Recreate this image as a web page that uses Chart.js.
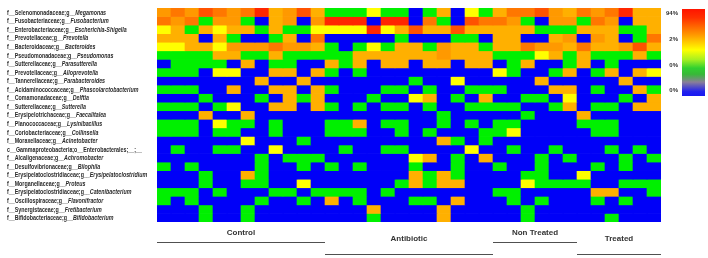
<!DOCTYPE html>
<html><head><meta charset="utf-8">
<script src="https://cdn.jsdelivr.net/npm/chart.js@4/dist/chart.umd.min.js"></script>
<style>html,body{margin:0;padding:0;background:#fff}#wrap{width:708px;height:258px;position:relative}</style>
</head><body><div id="wrap"><canvas id="c" width="708" height="258"></canvas></div>
<script>
// ---- labels ----
const familyLabels = [
  'f__Selenomonadaceae;g__','f__Fusobacteriaceae;g__','f__Enterobacteriaceae;g__','f__Prevotellaceae;g__',
  'f__Bacteroidaceae;g__','f__Pseudomonadaceae;g__','f__Sutterellaceae;g__','f__Prevotellaceae;g__',
  'f__Tannerellaceae;g__','f__Acidaminococcaceae;g__','f__Comamonadaceae;g__','f__Sutterellaceae;g__',
  'f__Erysipelotrichaceae;g__','f__Planococcaceae;g__','f__Coriobacteriaceae;g__','f__Moraxellaceae;g__',
  'c__Gammaproteobacteria;o__Enterobacterales;__;__','f__Alcaligenaceae;g__','f__Desulfovibrionaceae;g__',
  'f__Erysipelatoclostridiaceae;g__','f__Morganellaceae;g__','f__Erysipelatoclostridiaceae;g__',
  'f__Oscillospiraceae;g__','f__Synergistaceae;g__','f__Bifidobacteriaceae;g__'
];
const genusLabels = [
  'Megamonas','Fusobacterium','Escherichia-Shigella','Prevotella','Bacteroides','Pseudomonas',
  'Parasutterella','Alloprevotella','Parabacteroides','Phascolarctobacterium','Delftia','Sutterella',
  'Faecalitalea','Lysinibacillus','Collinsella','Acinetobacter','','Achromobacter','Bilophila',
  'Erysipelatoclostridium','Proteus','Catenibacterium','Flavonifractor','Fretibacterium','Bifidobacterium'
];
const groupNames = ['Control','Antibiotic','Non Treated','Treated'];
const colorbarTicks = ['94%','2%','0%','0%'];

// ---- heatmap levels (0 blue, 1 green, 2 yellow, 3..7 light orange -> red) ----
const control = [
  [4,5,4,6,5,4,5,7,3,4,6,3],
  [5,4,5,1,4,4,1,0,3,4,0,4],
  [2,3,1,3,2,3,3,1,3,1,1,2],
  [3,3,3,0,3,1,0,0,1,3,0,5],
  [2,2,3,3,2,4,4,4,5,4,4,3],
  [1,1,1,1,3,3,1,1,3,1,1,1],
  [0,1,1,1,1,0,3,0,1,1,0,0],
  [1,1,1,0,2,2,0,0,3,3,0,3],
  [0,0,0,0,0,0,0,3,0,0,3,0],
  [1,1,1,0,0,3,0,0,3,3,0,3],
  [0,0,0,1,0,0,0,1,0,3,1,3],
  [1,1,1,0,1,2,0,0,3,3,0,3],
  [0,0,0,3,0,0,3,0,0,0,0,0],
  [1,1,1,0,2,1,1,0,1,0,0,0],
  [1,1,1,0,1,1,0,0,1,0,0,0],
  [0,0,0,0,0,0,2,0,0,0,1,0],
  [0,1,0,0,1,1,0,0,2,0,0,0],
  [0,0,0,0,0,0,0,1,0,1,1,1],
  [1,0,1,0,0,0,0,1,0,0,1,0],
  [0,0,0,1,0,0,3,1,0,0,0,0],
  [0,0,0,1,0,0,1,1,0,0,2,0],
  [1,1,1,0,1,0,0,0,1,1,0,1],
  [1,0,1,0,0,0,0,1,0,0,1,0],
  [0,0,0,1,0,0,1,0,0,0,0,0],
  [0,0,0,1,0,0,1,0,0,0,0,0]
];
const antibiotic = [
  [1,1,1,2,1,1,0,1,3,0,2,1],
  [7,7,7,0,7,7,0,5,1,0,6,5],
  [2,2,2,7,2,3,6,3,3,6,3,3],
  [0,0,0,0,0,1,0,0,0,1,1,0],
  [1,0,1,2,1,3,3,1,4,3,3,1],
  [1,1,3,3,3,3,3,3,4,3,3,3],
  [3,1,3,0,3,3,0,3,3,0,3,3],
  [1,0,1,0,0,0,0,0,0,0,0,0],
  [0,0,0,0,0,0,1,0,0,2,0,0],
  [1,0,0,0,1,1,0,1,0,0,1,1],
  [0,0,0,1,0,0,2,3,0,1,0,3],
  [1,0,1,0,1,1,0,1,0,0,1,1],
  [0,0,0,0,0,0,0,0,1,0,0,0],
  [1,1,3,0,1,1,0,0,1,0,1,0],
  [1,1,1,0,0,1,0,1,0,0,0,1],
  [0,0,0,0,0,0,0,0,3,1,0,1],
  [0,1,0,0,1,1,0,0,0,0,2,0],
  [0,0,0,0,0,0,2,3,0,1,0,3],
  [1,0,1,0,0,0,1,0,0,1,0,0],
  [0,0,0,0,0,0,3,1,3,1,0,0],
  [0,0,0,0,0,1,3,1,3,3,0,0],
  [1,1,1,0,1,0,0,0,0,0,0,0],
  [3,0,1,0,0,0,1,1,0,3,0,0],
  [0,0,0,3,0,0,0,0,3,0,0,0],
  [0,0,0,1,0,0,0,0,3,0,0,0]
];
const nonTreated = [
  [3,5,5,6,4,3],
  [5,4,1,0,4,4],
  [3,3,3,1,1,1],
  [3,3,0,0,3,4],
  [3,3,5,4,4,3],
  [1,1,1,2,3,1],
  [0,1,3,0,0,1],
  [2,1,0,0,1,3],
  [0,0,0,3,0,0],
  [1,0,0,0,3,3],
  [0,0,1,1,0,2],
  [1,1,0,0,1,3],
  [0,0,1,0,0,0],
  [1,1,0,0,0,0],
  [1,2,0,0,0,0],
  [0,0,0,0,0,0],
  [0,1,0,0,1,0],
  [0,0,0,1,0,1],
  [1,0,0,1,0,0],
  [0,0,1,1,0,0],
  [0,0,2,1,1,1],
  [1,1,0,0,0,0],
  [0,1,0,1,0,0],
  [0,0,1,0,0,0],
  [0,0,1,0,0,0]
];
const treated = [
  [5,4,5,7,3,3],
  [1,5,4,0,3,3],
  [3,3,3,1,1,3],
  [0,4,3,0,1,5],
  [5,3,3,4,6,3],
  [3,1,1,1,3,1],
  [3,0,1,0,0,0],
  [0,1,3,0,3,2],
  [0,0,0,3,0,0],
  [0,1,0,0,3,1],
  [0,0,0,1,0,3],
  [0,1,1,0,3,3],
  [3,0,0,0,0,0],
  [1,1,1,0,0,0],
  [0,1,1,0,0,0],
  [0,0,0,0,0,0],
  [0,0,1,0,1,0],
  [0,0,0,1,0,1],
  [0,1,0,1,0,0],
  [2,0,0,0,0,0],
  [1,0,0,1,1,1],
  [0,3,3,0,0,1],
  [0,1,0,1,0,0],
  [0,0,0,0,0,0],
  [0,0,1,0,0,0]
];
const levelColors = ['#0000F8','#00F000','#FFFF00','#FFB000','#FF9900','#FF7700','#FF5200','#FF2600'];

// ---- build chart structures ----
const groupData = [control, antibiotic, nonTreated, treated];
const groupPrefix = ['C','A','N','T'];
const sampleLabels = [];
const groupRanges = [];
groupData.forEach((g, gi) => {
  const start = sampleLabels.length;
  for (let k = 0; k < g[0].length; k++) sampleLabels.push(groupPrefix[gi] + (k + 1));
  groupRanges.push([start, sampleLabels.length - 1]);
});
const nRows = familyLabels.length;
const datasets = [];
for (let r = 0; r < nRows; r++) {
  const levels = [].concat(control[r], antibiotic[r], nonTreated[r], treated[r]);
  datasets.push({
    label: familyLabels[r] + genusLabels[r],
    data: levels.map(() => 1),
    backgroundColor: levels.map(v => levelColors[v]),
    borderWidth: 0,
    barPercentage: 1,
    categoryPercentage: 1
  });
}

const FONT = '"Liberation Sans", Arial, sans-serif';
const decor = {
  id: 'decor',
  afterDraw(chart) {
    const ctx = chart.ctx;
    const xs = chart.scales.x, ys = chart.scales.y;
    ctx.save();
    // row labels
    ctx.fillStyle = '#2a2a2a';
    ctx.textBaseline = 'middle';
    ctx.textAlign = 'left';
    for (let r = 0; r < nRows; r++) {
      const y = ys.getPixelForValue(r + 0.5);
      const fNorm = 'bold 7px ' + FONT, fIt = 'italic bold 7px ' + FONT;
      ctx.font = fNorm; const w1 = ctx.measureText(familyLabels[r]).width;
      ctx.font = fIt; const w2 = ctx.measureText(genusLabels[r]).width;
      const sc = Math.min(0.76, 146 / (w1 + w2));
      ctx.save();
      ctx.translate(7, y + 0.5);
      ctx.scale(sc, 1);
      ctx.font = fNorm; ctx.fillText(familyLabels[r], 0, 0);
      ctx.font = fIt; ctx.fillText(genusLabels[r], w1, 0);
      ctx.restore();
    }
    // group labels and lines
    const half = (xs.getPixelForValue(1) - xs.getPixelForValue(0)) / 2;
    ctx.strokeStyle = '#505050';
    ctx.lineWidth = 1;
    ctx.fillStyle = '#333';
    ctx.textAlign = 'center';
    ctx.font = 'bold 8px ' + FONT;
    groupRanges.forEach((rg, gi) => {
      const x0 = xs.getPixelForValue(rg[0]) - half;
      const x1 = xs.getPixelForValue(rg[1]) + half;
      const low = gi % 2 === 1;
      const ly = low ? 254.5 : 242.5;
      const ty = low ? 238.5 : 233;
      ctx.beginPath(); ctx.moveTo(x0, ly); ctx.lineTo(x1, ly); ctx.stroke();
      ctx.fillText(groupNames[gi], (x0 + x1) / 2, ty);
    });
    // colour bar
    const cbx = 682, cby = 9, cbw = 23, cbh = 87;
    const grd = ctx.createLinearGradient(0, cby, 0, cby + cbh);
    grd.addColorStop(0, '#FF1400');
    grd.addColorStop(0.1, '#FF3000');
    grd.addColorStop(0.3, '#FF9A00');
    grd.addColorStop(0.47, '#FFFF00');
    grd.addColorStop(0.58, '#A8F020');
    grd.addColorStop(0.68, '#30D030');
    grd.addColorStop(0.75, '#38B838');
    grd.addColorStop(0.84, '#8A7F98');
    grd.addColorStop(0.95, '#2020EE');
    grd.addColorStop(1, '#1818F0');
    ctx.fillStyle = grd;
    ctx.fillRect(cbx, cby, cbw, cbh);
    ctx.fillStyle = '#333';
    ctx.textAlign = 'right';
    ctx.textBaseline = 'middle';
    ctx.font = 'bold 6px ' + FONT;
    const tickY = [13, 39, 65, 90];
    colorbarTicks.forEach((t, i) => ctx.fillText(t, 678, tickY[i]));
    ctx.restore();
  }
};

new Chart(document.getElementById('c'), {
  type: 'bar',
  data: { labels: sampleLabels, datasets },
  options: {
    responsive: false,
    devicePixelRatio: 1,
    animation: false,
    layout: { padding: { left: 157, right: 47, top: 8, bottom: 36 } },
    scales: {
      x: { display: false, stacked: true },
      y: { display: false, stacked: true, min: 0, max: nRows, reverse: true }
    },
    plugins: { legend: { display: false }, tooltip: { enabled: false } }
  },
  plugins: [decor]
});
</script>
</body></html>
